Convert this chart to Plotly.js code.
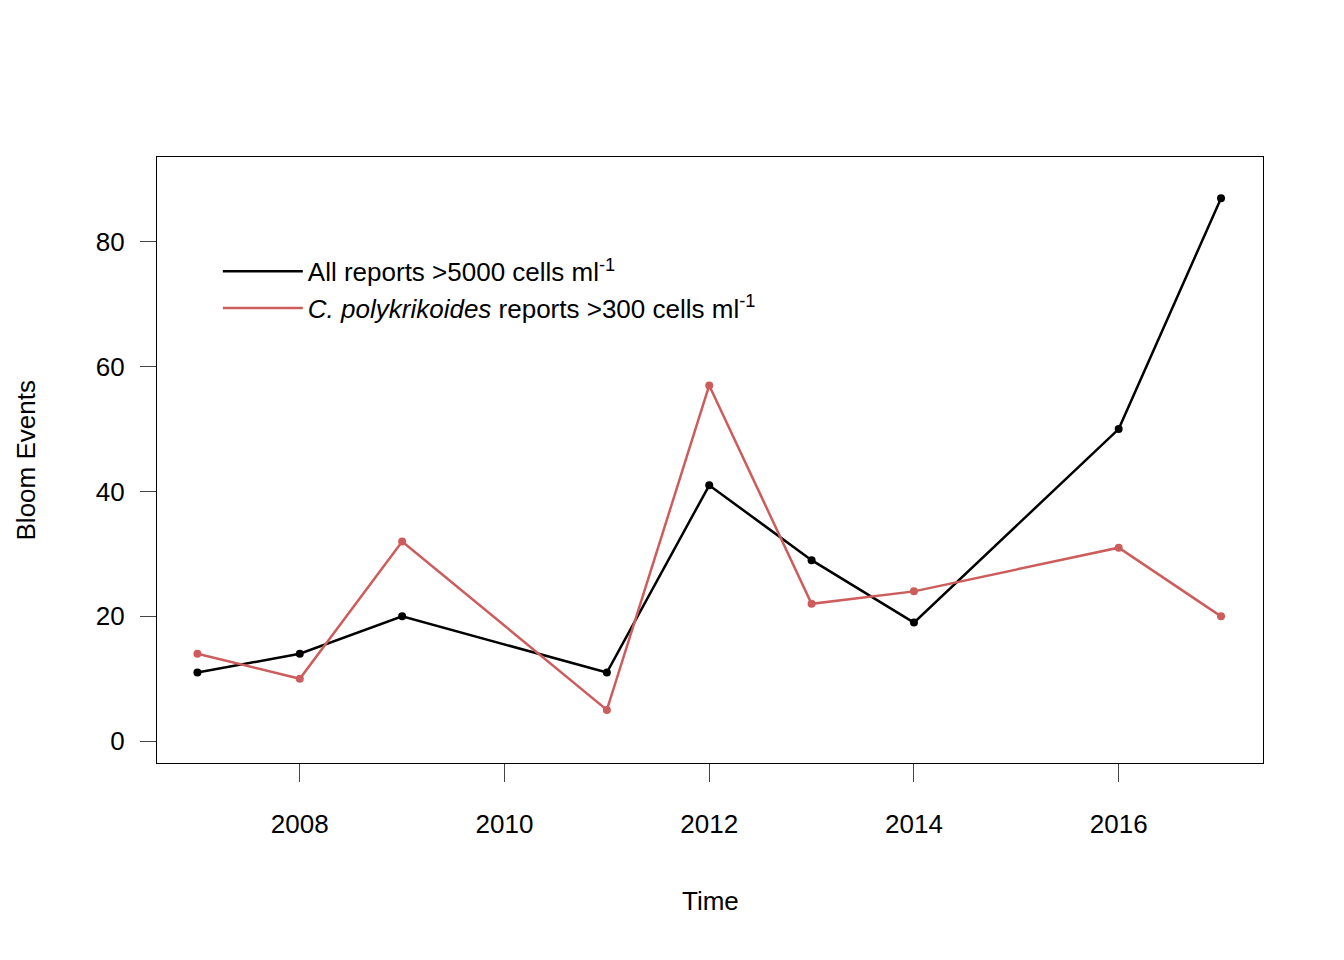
<!DOCTYPE html>
<html><head><script src="https://cdn.plot.ly/plotly-3.0.1.min.js"></script></head>
<body style="margin:0"><div id="c" style="width:1344px;height:960px"></div>
<script>
const years=[2007,2008,2009,2011,2012,2013,2014,2016,2017];
const allReports=[11,14,20,11,41,29,19,50,87];
const cpoly=[14,10,32,5,57,22,24,31,20];
const xticks=[2008,2010,2012,2014,2016];
const yticks=[0,20,40,60,80];
const f={family:'Arial, Liberation Sans, sans-serif',size:26,color:'#000'};
const n1='All reports >5000 cells ml<sup>-1</sup>';
const n2='<i>C. polykrikoides</i> reports >300 cells ml<sup>-1</sup>';
const data=[
{x:years,y:allReports,mode:'lines+markers',showlegend:false,line:{color:'#000',width:2.5},marker:{size:8,color:'#000'}},
{x:years,y:cpoly,mode:'lines+markers',showlegend:false,line:{color:'#CD5C5C',width:2.5},marker:{size:8,color:'#CD5C5C'}},
{x:[null],y:[null],mode:'lines',name:n1,line:{color:'#000',width:2.5}},
{x:[null],y:[null],mode:'lines',name:n2,line:{color:'#CD5C5C',width:2.5}}
];
const layout={width:1344,height:960,margin:{l:157,r:81,t:157,b:197},font:f,
plot_bgcolor:'#fff',paper_bgcolor:'#fff',
xaxis:{range:[2006.605,2017.41],tickvals:xticks,ticks:'outside',ticklen:18,tickwidth:1.3,ticklabelstandoff:20,showline:true,mirror:true,linecolor:'#000',linewidth:1.3,showgrid:false,zeroline:false,tickfont:f},
yaxis:{range:[-3.5,93.6],tickvals:yticks,ticks:'outside',ticklen:16,tickwidth:1.3,ticklabelstandoff:10,showline:true,mirror:true,linecolor:'#000',linewidth:1.3,showgrid:false,zeroline:false,tickfont:f},
legend:{x:0.055,y:0.85,xanchor:'left',yanchor:'top',bgcolor:'rgba(0,0,0,0)',font:f,tracegroupgap:0,itemwidth:80},
showlegend:true,
annotations:[
{text:'Time',xref:'paper',yref:'paper',x:0.5,y:-0.227,xanchor:'center',yanchor:'middle',showarrow:false,font:f},
{text:'Bloom Events',xref:'paper',yref:'paper',x:-0.118,y:0.5,textangle:-90,xanchor:'center',yanchor:'middle',showarrow:false,font:f}
]};
Plotly.newPlot('c',data,layout,{displayModeBar:false});
</script></body></html>
